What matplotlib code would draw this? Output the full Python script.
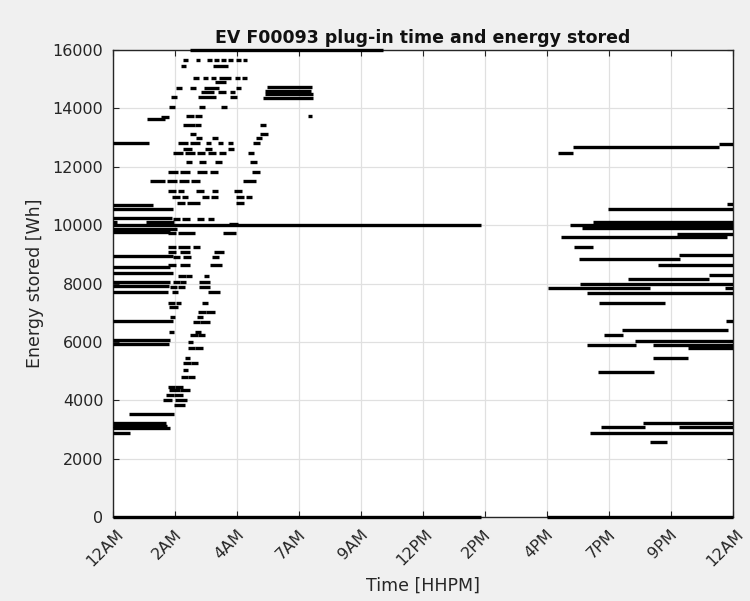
import numpy as np
import matplotlib
matplotlib.use("Agg")
import matplotlib.pyplot as plt
import matplotlib.transforms as mtrans

# hour-of-day ticks, MATLAB style labels (truncated hours)
tick_hours = [0, 2.4, 4.8, 7.2, 9.6, 12, 14.4, 16.8, 19.2, 21.6, 24]
tick_labels = ['12AM', '2AM', '4AM', '7AM', '9AM', '12PM', '2PM', '4PM', '7PM', '9PM', '12AM']
energy_ticks = [0, 2000, 4000, 6000, 8000, 10000, 12000, 14000, 16000]

# long plug-in sessions (start hour, end hour, energy Wh)
long_on = [0, 1.32, 1.86, 0, 0, 0, 0, 1.26, 0, 0, 0,
           0, 0, 0, 0, 0, 0, 0, 0, 0.62, 0, 0, 0, 0, 0,
           5.96, 5.90, 5.90, 5.80, 7.55]
long_off = [1.39, 2.01, 2.17, 1.55, 2.32, 2.28, 0.15, 2.36, 14.26, 2.48, 2.21,
            2.32, 2.21, 2.32, 2.21, 2.17, 2.13, 2.32, 2.21, 2.36, 2.17, 2.05, 2.09, 2.21, 0.66,
            7.70, 7.65, 7.75, 7.75, 7.70]
long_wh = [12800, 13620, 13720, 10700, 10540, 10250, 10120, 10120, 10000, 9880, 9760,
           8940, 8575, 8350, 8050, 7900, 7720, 6715, 6080, 3520, 5940, 3210, 3120, 3040, 2890,
           14720, 14610, 14480, 14340, 13740]

# sessions sitting on the axis limits (empty battery / full battery)
edge_on = [0, 16.8, 2.98]
edge_off = [14.26, 24, 10.45]
edge_wh = [0, 0, 16000]

# short charging bursts in the early morning
dash_wh = ([15650] * 8 + [15450] * 2 + [15030] * 6 + [14910] + [14710] * 4 +
           [14570] * 3 + [14400] * 3 + [14060] * 3 + [13740] * 2 + [13430] * 3 +
           [13110] * 2 + [12970] * 3 + [12800] * 6 + [12620] * 3 + [12460] * 6 +
           [12150] * 4 + [11830] * 5 + [11520] * 5 + [11180] * 5 + [10970] * 6 +
           [10750] * 3 + [10200] * 4 + [10050] + [9720] * 3 + [9260] * 3 +
           [9090] * 3 + [8920] * 3 + [8630] * 3 + [8240] * 3 + [8060] * 3 +
           [7890] * 3 + [7720] * 2 + [7340] * 3 + [7200] + [7030] * 2 + [6860] * 2 +
           [6690] * 2 + [6350] * 2 + [6235] * 2 + [6010] + [5780] * 2 + [5440] +
           [5270] * 2 + [5040] + [4810] * 2 + [4460] * 2 + [4350] * 2 + [4180] * 2 +
           [4010] * 2 + [3840])
dash_on = [2.71, 3.21, 3.64, 3.91, 4.18, 4.45, 4.76, 5.03,
           2.63, 3.87,
           3.10, 3.48, 3.79, 4.10, 4.72, 4.99,
           3.95,
           2.44, 2.98, 3.52, 4.76,
           3.41, 4.06, 4.53,
           2.25, 3.29, 4.53,
           2.17, 3.33, 4.18,
           2.83, 3.17,
           2.71, 3.17, 5.69,
           2.98, 5.69,
           3.21, 3.83, 5.54,
           2.52, 2.98, 3.60, 4.06, 4.45, 5.42,
           2.71, 3.56, 4.45,
           2.32, 2.79, 3.25, 3.68, 4.10, 5.23,
           2.83, 3.33, 3.95, 5.30,
           2.13, 2.59, 3.25, 3.75, 5.38,
           1.43, 2.09, 2.55, 3.02, 5.03,
           2.13, 2.52, 3.21, 3.83, 4.68,
           2.28, 2.67, 3.45, 3.79, 4.76, 5.15,
           2.48, 2.86, 4.76,
           2.32, 2.67, 3.25, 3.68,
           4.49,
           2.13, 2.52, 4.26,
           2.13, 2.52, 3.10,
           2.13, 2.59, 3.91,
           2.32, 2.71, 3.83,
           2.13, 2.59, 3.75,
           2.52, 2.83, 3.52,
           2.32, 2.59, 3.33,
           2.21, 2.52, 3.33,
           2.28, 3.68,
           2.13, 2.44, 3.45,
           2.17,
           3.29, 3.60,
           2.21, 3.25,
           3.10, 3.37,
           2.17, 3.17,
           2.98, 3.29,
           2.90,
           2.90, 3.17,
           2.79,
           2.71, 3.02,
           2.71,
           2.63, 2.90,
           2.13, 2.40,
           2.17, 2.59,
           2.05, 2.36,
           1.94, 2.40,
           2.36]
dash_off = [2.90, 3.37, 3.83, 4.10, 4.37, 4.65, 4.95, 5.19,
            2.83, 4.45,
            3.33, 3.68, 3.99, 4.57, 4.92, 5.19,
            4.37,
            2.67, 3.21, 4.10, 4.95,
            3.91, 4.37, 4.72,
            2.48, 3.99, 4.80,
            2.40, 3.56, 4.41,
            3.14, 3.45,
            3.17, 3.41, 5.92,
            3.21, 6.00,
            3.45, 4.06, 5.77,
            2.90, 3.37, 3.79, 4.26, 4.65, 5.69,
            3.06, 3.83, 4.68,
            2.71, 3.17, 3.56, 3.99, 4.37, 5.46,
            3.06, 3.60, 4.22, 5.57,
            2.52, 2.98, 3.64, 4.06, 5.69,
            2.01, 2.48, 2.94, 3.37, 5.54,
            2.44, 2.75, 3.52, 4.06, 4.99,
            2.59, 2.90, 3.72, 4.06, 5.07, 5.38,
            2.79, 3.37, 5.07,
            2.59, 2.98, 3.52, 3.91,
            4.84,
            2.44, 3.17, 4.76,
            2.44, 2.98, 3.37,
            2.44, 2.98, 4.30,
            2.59, 3.02, 4.10,
            2.44, 2.98, 4.22,
            2.83, 3.06, 3.72,
            2.59, 2.83, 3.75,
            2.48, 2.79, 3.75,
            2.52, 4.14,
            2.40, 2.63, 3.68,
            2.52,
            3.60, 3.95,
            2.40, 3.48,
            3.37, 3.75,
            2.36, 3.41,
            3.29, 3.56,
            3.10,
            3.17, 3.48,
            2.98,
            3.02, 3.29,
            2.90,
            2.90, 3.17,
            2.40, 2.71,
            2.59, 2.98,
            2.36, 2.71,
            2.28, 2.86,
            2.79]

# evening plug-in sessions
eve_on = [23.46, 17.81, 17.23, 23.77, 19.16, 18.58, 17.69, 18.16, 21.83, 17.34,
          17.85, 21.91, 18.04, 21.10, 23.07, 19.94, 18.08, 16.84, 23.69, 18.35,
          18.81, 23.73, 19.72, 19.01, 20.21, 18.35, 20.90, 22.26, 20.90, 18.77,
          20.52, 18.89, 21.91, 18.47, 20.79]
eve_off = [24, 23.46, 17.81, 24, 24, 24, 24, 24, 24, 23.77,
           18.58, 24, 21.95, 24, 24, 23.07, 24, 20.79, 24, 24,
           21.35, 24, 23.79, 19.74, 24, 20.25, 24, 24, 22.26, 20.94,
           24, 20.59, 24, 24, 21.45]
eve_wh = [12780, 12670, 12460, 10720, 10540, 10120, 10000, 9890, 9700, 9590,
          9260, 8960, 8830, 8630, 8300, 8160, 8000, 7850, 7850, 7690,
          7340, 6700, 6410, 6250, 6030, 5900, 5900, 5790, 5440, 4960,
          3230, 3070, 3070, 2890, 2580]

fig = plt.figure(figsize=(7.5, 6.01), dpi=100, facecolor='#f0f0f0')
ax = fig.add_axes([113 / 750, 84 / 601, 620 / 750, 467 / 601])

lw = 2.4
ax.hlines(long_wh, long_on, long_off, color='k', lw=lw, zorder=3)
ax.hlines(dash_wh, dash_on, dash_off, color='k', lw=lw, zorder=3)
ax.hlines(eve_wh, eve_on, eve_off, color='k', lw=lw, zorder=3)
ax.hlines(edge_wh, edge_on, edge_off, color='k', lw=lw, zorder=4, clip_on=False)

ax.set_xlim(0, 24)
ax.set_ylim(0, 16000)
ax.set_xticks(tick_hours)
ax.set_xticklabels(tick_labels, rotation=45, ha='center')
ax.set_yticks(energy_ticks)
ax.set_yticklabels([str(v) for v in energy_ticks])

dark = '#262626'
ax.tick_params(direction='in', top=True, right=True, length=4, width=0.8,
               colors=dark, labelsize=11.5)
ax.tick_params(axis='y', pad=7)
ax.tick_params(axis='x', pad=7)
# MATLAB places rotated labels slightly left of the tick
shift = mtrans.ScaledTranslation(-8 / 100, 0, fig.dpi_scale_trans)
for lab in ax.get_xticklabels():
    lab.set_transform(lab.get_transform() + shift)

ax.grid(True, color='#e0e0e0', lw=0.9)
ax.set_axisbelow(True)
for sp in ax.spines.values():
    sp.set_color(dark)
    sp.set_linewidth(1.0)

ax.set_title('EV F00093 plug-in time and energy stored', fontsize=12.5,
             fontweight='bold', color='#111111', pad=5)
ax.set_ylabel('Energy stored [Wh]', fontsize=12.5, color=dark, labelpad=6)
ax.set_xlabel('Time [HHPM]', fontsize=12.5, color=dark, labelpad=5)

fig.savefig('out.png', dpi=100, facecolor=fig.get_facecolor())
